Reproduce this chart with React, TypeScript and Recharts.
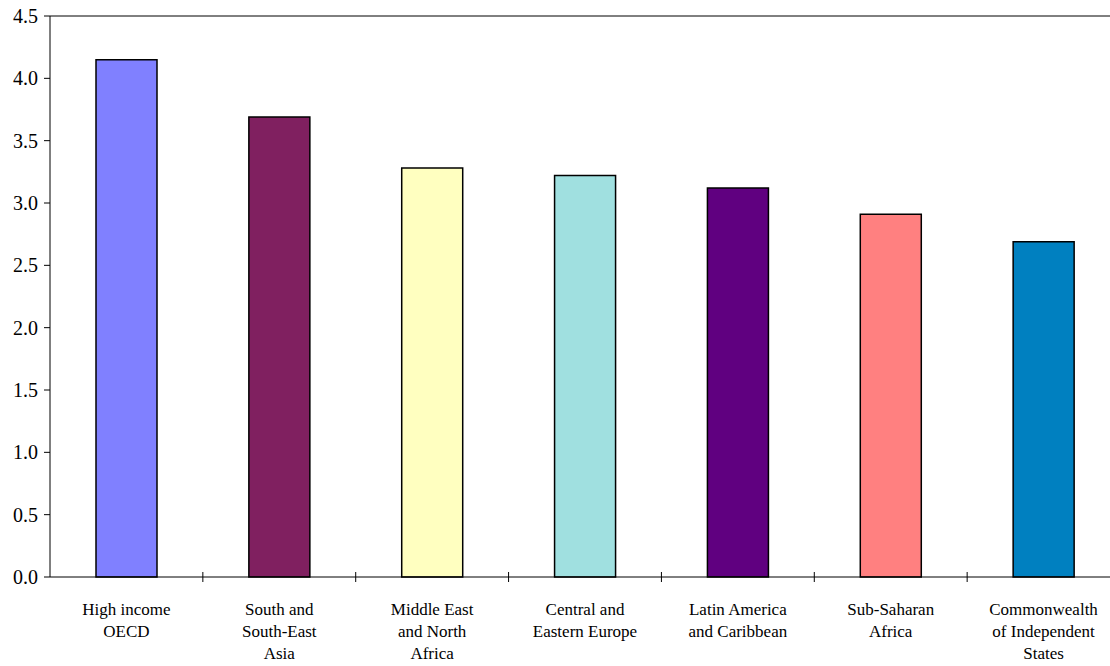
import { BarChart, Bar, XAxis, YAxis, Cell, ReferenceLine } from 'recharts';

const categories = [
  'High income\nOECD',
  'South and\nSouth-East\nAsia',
  'Middle East\nand North\nAfrica',
  'Central and\nEastern Europe',
  'Latin America\nand Caribbean',
  'Sub-Saharan\nAfrica',
  'Commonwealth\nof Independent\nStates',
];
const values = [4.15, 3.69, 3.28, 3.22, 3.12, 2.91, 2.69];
const barColors = ['#8080FF', '#802060', '#FFFFC0', '#A0E0E0', '#600080', '#FF8080', '#0080C0'];
const yTicks = [0, 0.5, 1, 1.5, 2, 2.5, 3, 3.5, 4, 4.5];

const data = categories.map((name, i) => ({ name, value: values[i] }));

const FONT = '"Liberation Serif", "Times New Roman", serif';
const WIDTH = 1110;
const HEIGHT = 666;
const MARGIN = { top: 16, right: -10, left: 0, bottom: 0 };
const Y_AXIS_W = 50;
const BAND = (WIDTH - MARGIN.left - MARGIN.right - Y_AXIS_W) / categories.length;

// multi-line category label + small tick between categories
function CategoryTick({ x, y, payload, index }: any) {
  const lines = String(payload.value).split('\n');
  const bx = x - BAND / 2;
  return (
    <g>
      {index > 0 && <line x1={bx} x2={bx} y1={y - 5} y2={y + 5} stroke="#000" strokeWidth={1} />}
      <text x={x} y={y} textAnchor="middle" fontFamily={FONT} fontSize={17} fill="#000">
        {lines.map((l, i) => (
          <tspan key={i} x={x} dy={i === 0 ? 38 : 22}>
            {l}
          </tspan>
        ))}
      </text>
    </g>
  );
}

function ValueTick({ x, y, payload }: any) {
  return (
    <text x={x} y={y} dy={7} textAnchor="end" fontFamily={FONT} fontSize={20} fill="#000">
      {Number(payload.value).toFixed(1)}
    </text>
  );
}

export default function App() {
  return (
    <div style={{ position: 'absolute', left: 0, top: 0, width: WIDTH, height: HEIGHT, background: '#fff', overflow: 'hidden' }}>
      <BarChart
        width={WIDTH}
        height={HEIGHT}
        data={data}
        margin={MARGIN}
        style={{ fontFamily: FONT }}
      >
        <XAxis
          dataKey="name"
          height={89}
          interval={0}
          tickLine={false}
          tickSize={0}
          tickMargin={0}
          axisLine={{ stroke: '#000' }}
          tick={<CategoryTick />}
        />
        <YAxis
          domain={[0, 4.5]}
          ticks={yTicks}
          width={Y_AXIS_W}
          interval={0}
          tick={<ValueTick />}
          tickSize={6}
          tickMargin={6}
          axisLine={{ stroke: '#000' }}
          tickLine={{ stroke: '#000' }}
        />
        <ReferenceLine y={4.5} stroke="#000" strokeWidth={1} />
        <Bar dataKey="value" stroke="#000" strokeWidth={1.5} isAnimationActive={false} barSize={61}>
          {data.map((d, i) => (
            <Cell key={d.name} fill={barColors[i]} />
          ))}
        </Bar>
      </BarChart>
    </div>
  );
}
